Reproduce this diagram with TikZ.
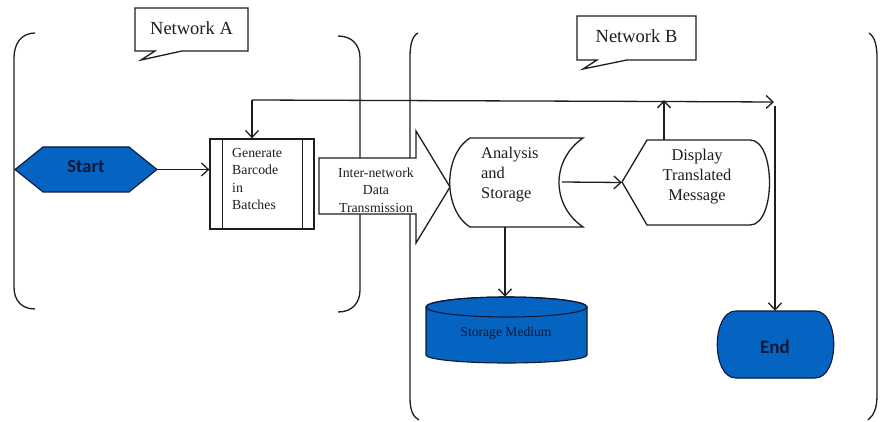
\documentclass[tikz,border=0pt]{standalone}
\usepackage{fontspec}
\setmainfont{Liberation Serif}
\newfontfamily\calfont{Carlito}
\usetikzlibrary{arrows.meta}
\definecolor{shapeblue}{RGB}{5,99,193}
\definecolor{navy}{RGB}{12,24,52}
\definecolor{ink}{RGB}{30,30,30}
\begin{document}
\begin{tikzpicture}[x=1pt,y=-1pt,
  line/.style={draw=ink,line width=1.3pt},
  arr/.style={line,-{Straight Barb[length=7pt,width=13pt,line width=1.3pt]}},
  txt/.style={inner sep=0pt,text=ink},
  anchorbox/.style={inner sep=0pt,draw=none},
  tsmall/.style={txt,font=\fontsize{13.8}{17.5}\selectfont},
  tmid/.style={txt,font=\fontsize{16.4}{20}\selectfont},
  tcall/.style={txt,font=\fontsize{18.5}{22}\selectfont},
  tbold/.style={inner sep=0pt,text=navy,font=\calfont\bfseries\fontsize{18.5}{22}\selectfont},
  blueshape/.style={fill=shapeblue,draw=navy,line width=1.1pt},
]
\useasboundingbox (0,0) rectangle (880,422);
\fill[white] (0,0) rectangle (880,422);

% brackets Network A
\draw[line] (35,33) .. controls (21,33) and (14,44) .. (14,58) -- (14,287) .. controls (14,300) and (21,309) .. (35,309);
\draw[line] (338,36) .. controls (352,36) and (360,45) .. (360,58) -- (360,290) .. controls (360,303) and (352,312) .. (338,312);
% brackets Network B
\draw[line] (418,33) .. controls (412,36) and (410,45) .. (410,58) -- (410,398) .. controls (410,410) and (413,417) .. (419,420);
\draw[line] (869,33) .. controls (875,37) and (877,46) .. (877,58) -- (877,395) .. controls (877,408) and (874,415) .. (868,420);

% callouts
\draw[line,fill=white] (135,8) -- (248,8) -- (248,51) -- (182,51) -- (141,60) -- (155,51) -- (135,51) -- cycle;
\node[tcall] (neta) at (191.5,28) {Network A};
\draw[line,fill=white] (577,16) -- (696,16) -- (696,60) -- (627,60) -- (583,69) -- (597,60) -- (577,60) -- cycle;
\node[tcall] (netb) at (636.5,36) {Network B};

% Start hexagon
\path[blueshape] (15,169.5) -- (43,147) -- (129,147) -- (157,169.5) -- (129,192) -- (43,192) -- cycle;
\node[anchorbox,minimum width=142,minimum height=45] (start) at (86,169.5) {};
\node[tbold] (starttxt) at (86,167) {Start};

% Generate Barcode box
\node[line,draw,rectangle,minimum width=104,minimum height=90,inner sep=0pt] (gen) at (262,184) {};
\draw[line] ([xshift=13]gen.north west) -- ([xshift=13]gen.south west);
\draw[line] ([xshift=-12]gen.north east) -- ([xshift=-12]gen.south east);
\node[tsmall,align=left,anchor=west] (gentxt) at (232,179) {Generate\\Barcode\\in\\Batches};

% Inter-network block arrow
\path[line,fill=white] (319,158) -- (416,158) -- (416,131) -- (450,187) -- (416,243) -- (416,214) -- (319,214) -- cycle;
\node[anchorbox,minimum width=131,minimum height=112] (inter) at (384.5,187) {};
\node[tsmall,align=center] (intertxt) at (376,190) {Inter-network\\Data\\Transmission};

% Analysis and Storage (stored data)
\path[line,fill=white] (470,138) -- (583,138) .. controls (551,160) and (551,205) .. (583,227) -- (470,227) .. controls (443,210) and (443,155) .. (470,138) -- cycle;
\node[anchorbox,minimum width=134,minimum height=89] (ana) at (516,182.5) {};
\node[tmid,align=left,anchor=west] (anatxt) at (481,175) {Analysis\\and\\Storage};

% Display Translated Message
\path[line,fill=white] (622,182) -- (647,140) -- (750,140) .. controls (776,140) and (776,225) .. (750,225) -- (647,225) -- cycle;
\node[anchorbox,minimum width=148,minimum height=85] (disp) at (696,182.5) {};
\node[tmid,align=center] (disptxt) at (697,177) {Display\\Translated\\Message};

% Storage Medium cylinder
\path[blueshape] (426,307) -- (426,355) arc[start angle=180,end angle=360,x radius=80.5pt,y radius=8pt] -- (587,307) arc[start angle=0,end angle=180,x radius=80.5pt,y radius=10pt] -- cycle;
\draw[draw=navy,line width=1.1pt] (506.5,307) ellipse [x radius=80.5pt,y radius=10pt];
\node[anchorbox,minimum width=161,minimum height=66] (stor) at (506.5,330) {};
\node[txt,text=navy,font=\fontsize{13.6}{16}\selectfont] (stortxt) at (506,333) {Storage Medium};

% End terminal
\path[blueshape] (736,311) -- (815,311) .. controls (840,311) and (840,378) .. (815,378) -- (736,378) .. controls (711,378) and (711,311) .. (736,311) -- cycle;
\node[anchorbox,minimum width=117,minimum height=67] (end) at (776,344.5) {};
\node[tbold,font=\calfont\bfseries\fontsize{19}{22}\selectfont] (endtxt) at (775,347) {End};

% connectors
\coordinate (fbL) at (252,100);
\coordinate (fbM) at (664,101.5);
\coordinate (fbR) at (774,102);
\coordinate (fbD) at (775,106);
\draw[arr] (start.east) -- (start.east -| gen.west);
\draw[arr] (562,182) coordinate (anaR) -- (disp.west);
\draw[arr] (ana.south -| 505,0) -- (stor.north -| 505,0);
\draw[arr] (disp.north -| fbM) -- ([yshift=1.5]fbM);
\draw[line] (fbM) -- (fbL);
\draw[arr] (fbL) -- (gen.north -| fbL);
\draw[arr] (fbM) -- (fbR);
\draw[arr] (fbD) -- (end.north -| fbD);
\end{tikzpicture}
\end{document}
